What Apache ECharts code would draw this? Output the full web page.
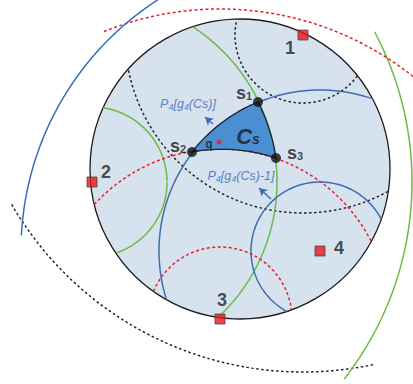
<!DOCTYPE html>
<html><head><meta charset="utf-8">
<script src="https://cdn.jsdelivr.net/npm/echarts@6/dist/echarts.min.js"></script>
<style>html,body{margin:0;padding:0;background:#fff}#c{width:413px;height:384px}</style>
</head><body><div id="c"></div>
<script>
// ---- data (pixel space, y downward) ----
const domain = [240, 169, 150];            // big disc: cx, cy, r
const siteNames = ['1', '2', '3', '4'];
const siteX = [303, 92, 220, 320];
const siteY = [35, 182, 319, 251];
const smallR = [68, 75, 72, 69];           // inner circle radii
const midR = [178, 185, 170, 161];         // middle circle radii
const largeR = [337, 320, 310, 299];       // outer circle radii
const largeFrom = [78, -28, 248, 183];     // outer arc start angle (deg)
const largeTo = [150, 38, 314, 240];       // outer arc end angle (deg)
const vertexNames = ['1', '2', '3'];
const vertexX = [258, 192, 276];
const vertexY = [102, 152, 158];
const queryPoint = [219, 142];
const arrowUp = [[213, 124], [205, 117]];
const arrowDown = [[271, 199], [259, 188]];
const arrowTexts = ['P4[g4(Cs)]', 'P4[g4(Cs)-1]'];

// ---- styles ----
const siteColor = ['#1f1f1f', '#6cbb45', '#e8202a', '#3c6db4'];
const siteDash = [[2.5, 2.5], 'solid', [3, 2.5], 'solid'];
const FONT = 'Liberation Sans, Arial, sans-serif';

function arcPoints(cx, cy, r, a0, a1, step) {
  const pts = [];
  const n = Math.max(2, Math.ceil(Math.abs(a1 - a0) / step));
  for (let i = 0; i <= n; i++) {
    const a = (a0 + (a1 - a0) * i / n) * Math.PI / 180;
    pts.push([cx + r * Math.cos(a), cy + r * Math.sin(a)]);
  }
  return pts;
}
function clipInside(pts) {
  return pts.map(p => {
    const d = Math.hypot(p[0] - domain[0], p[1] - domain[1]);
    return d <= domain[2] + 0.3 ? p : ['-', '-'];
  });
}
// arc between two vertices around a centre (radius interpolated)
function edge(c, A, B, n) {
  let a0 = Math.atan2(A[1] - c[1], A[0] - c[0]);
  let a1 = Math.atan2(B[1] - c[1], B[0] - c[0]);
  let d = a1 - a0;
  while (d > Math.PI) d -= 2 * Math.PI;
  while (d < -Math.PI) d += 2 * Math.PI;
  const r0 = Math.hypot(A[0] - c[0], A[1] - c[1]);
  const r1 = Math.hypot(B[0] - c[0], B[1] - c[1]);
  const pts = [];
  for (let i = 0; i <= n; i++) {
    const t = i / n, a = a0 + d * t, r = r0 + (r1 - r0) * t;
    pts.push([c[0] + r * Math.cos(a), c[1] + r * Math.sin(a)]);
  }
  return pts;
}

const series = [];
// big disc
series.push({
  type: 'custom', z: 1, silent: true,
  data: [domain],
  renderItem: (params, api) => {
    const c = api.coord([api.value(0), api.value(1)]);
    const r = api.size([api.value(2), 0])[0];
    return { type: 'circle', shape: { cx: c[0], cy: c[1], r: r },
      style: { fill: '#d6e2ee', stroke: '#1c1c1c', lineWidth: 1.3 } };
  }
});
// circles around each site
for (let i = 0; i < 4; i++) {
  const ls = { color: siteColor[i], width: 1.5, type: siteDash[i] };
  const common = { type: 'line', showSymbol: false, symbol: 'none', z: 3, silent: true, lineStyle: ls, connectNulls: false };
  series.push(Object.assign({}, common, { data: clipInside(arcPoints(siteX[i], siteY[i], smallR[i], 0, 360, 0.5)) }));
  series.push(Object.assign({}, common, { data: clipInside(arcPoints(siteX[i], siteY[i], midR[i], 0, 360, 0.3)) }));
  series.push(Object.assign({}, common, { data: arcPoints(siteX[i], siteY[i], largeR[i], largeFrom[i], largeTo[i], 0.3) }));
}
// Cs cell
const S = vertexX.map((x, i) => [x, vertexY[i]]);
const cBlue = [siteX[3], siteY[3]], cGreen = [siteX[1], siteY[1]], cRed = [siteX[2], siteY[2]];
const cellPts = [].concat(edge(cBlue, S[1], S[0], 40), edge(cGreen, S[0], S[2], 30), edge(cRed, S[2], S[1], 40));
series.push({
  type: 'custom', z: 5, silent: true,
  data: [0],
  renderItem: (params, api) => ({
    type: 'polygon',
    shape: { points: cellPts.map(p => api.coord(p)) },
    style: { fill: '#4a8fd2', stroke: '#1a2230', lineWidth: 1.3 }
  })
});
// arrows
series.push({
  type: 'line', data: [], z: 6, silent: true,
  markLine: {
    silent: true, symbol: ['none', 'arrow'], symbolSize: [7, 8],
    lineStyle: { color: '#3c6db4', width: 1.5, type: 'solid' },
    label: { show: false },
    data: [
      [{ coord: arrowUp[0] }, { coord: arrowUp[1] }],
      [{ coord: arrowDown[0] }, { coord: arrowDown[1] }]
    ]
  }
});
// arrow labels
const p4rich = {
  t: { fontFamily: FONT, fontStyle: 'italic', fontSize: 12.5, color: '#3a64b2' },
  u: { fontFamily: FONT, fontStyle: 'italic', fontSize: 9, color: '#3a64b2', padding: [5, 0, 0, 0] }
};
function p4fmt(s) {
  return s.split(/(4)/).filter(x => x).map(x => x === '4' ? '{u|4}' : '{t|' + x + '}').join('');
}
series.push({
  type: 'scatter', z: 7, silent: true, symbolSize: 0,
  data: [
    { value: arrowUp[1], name: arrowTexts[0], label: { offset: [-17, -13] } },
    { value: arrowDown[1], name: arrowTexts[1], label: { offset: [-18, -12] } }
  ],
  label: { show: true, position: 'inside', formatter: p => p4fmt(p.name), rich: p4rich }
});
// sites
const siteLabelOffset = [[-13, 13], [14, -10], [2, -19], [19, -3]];
series.push({
  type: 'scatter', z: 8, silent: true, symbol: 'rect', symbolSize: 10,
  itemStyle: { color: '#e8161c', borderColor: '#4a4a4a', borderWidth: 1 },
  data: siteNames.map((n, i) => ({ value: [siteX[i], siteY[i]], name: n, label: { offset: siteLabelOffset[i] } })),
  label: { show: true, position: 'inside', formatter: p => p.name, fontFamily: FONT, fontWeight: 'bold', fontSize: 18, color: '#222' }
});
// vertices
const vLabelOffset = [[-14, -9], [-14, -6], [19, -5]];
const srich = {
  s: { fontFamily: FONT, fontWeight: 'bold', fontSize: 18, color: '#1a1a1a' },
  n: { fontFamily: FONT, fontWeight: 'bold', fontSize: 11, color: '#1a1a1a', padding: [6, 0, 0, 0] }
};
series.push({
  type: 'scatter', z: 9, silent: true, symbol: 'circle', symbolSize: 10,
  itemStyle: { color: '#111' },
  data: vertexNames.map((n, i) => ({ value: [vertexX[i], vertexY[i]], name: n, label: { offset: vLabelOffset[i] } })),
  label: { show: true, position: 'inside', formatter: p => '{s|s}{n|' + p.name + '}', rich: srich }
});
// query point and Cs label
series.push({
  type: 'scatter', z: 9, silent: true, symbol: 'circle', symbolSize: 5,
  itemStyle: { color: '#e8202a' },
  data: [{ value: queryPoint, name: 'q' }],
  label: { show: true, position: 'inside', offset: [-10, 2], formatter: 'q', fontFamily: FONT, fontWeight: 'bold', fontSize: 12, color: '#1a1a1a' }
});
series.push({
  type: 'scatter', z: 9, silent: true, symbolSize: 0,
  data: [{ value: queryPoint, name: 'Cs' }],
  label: { show: true, position: 'inside', offset: [29, -6], formatter: '{c|C}{s|s}',
    rich: {
      c: { fontFamily: FONT, fontWeight: 'bold', fontStyle: 'italic', fontSize: 22, color: '#1a1a1a' },
      s: { fontFamily: FONT, fontWeight: 'bold', fontStyle: 'italic', fontSize: 14, color: '#1a1a1a', padding: [6, 0, 0, 0] }
    } }
});

const chart = echarts.init(document.getElementById('c'), null, { renderer: 'svg' });
chart.setOption({
  animation: false,
  grid: { left: 0, right: 0, top: 0, bottom: 0 },
  xAxis: { type: 'value', min: 0, max: 413, show: false },
  yAxis: { type: 'value', min: 0, max: 384, inverse: true, show: false },
  series: series
});
</script>
</body></html>
